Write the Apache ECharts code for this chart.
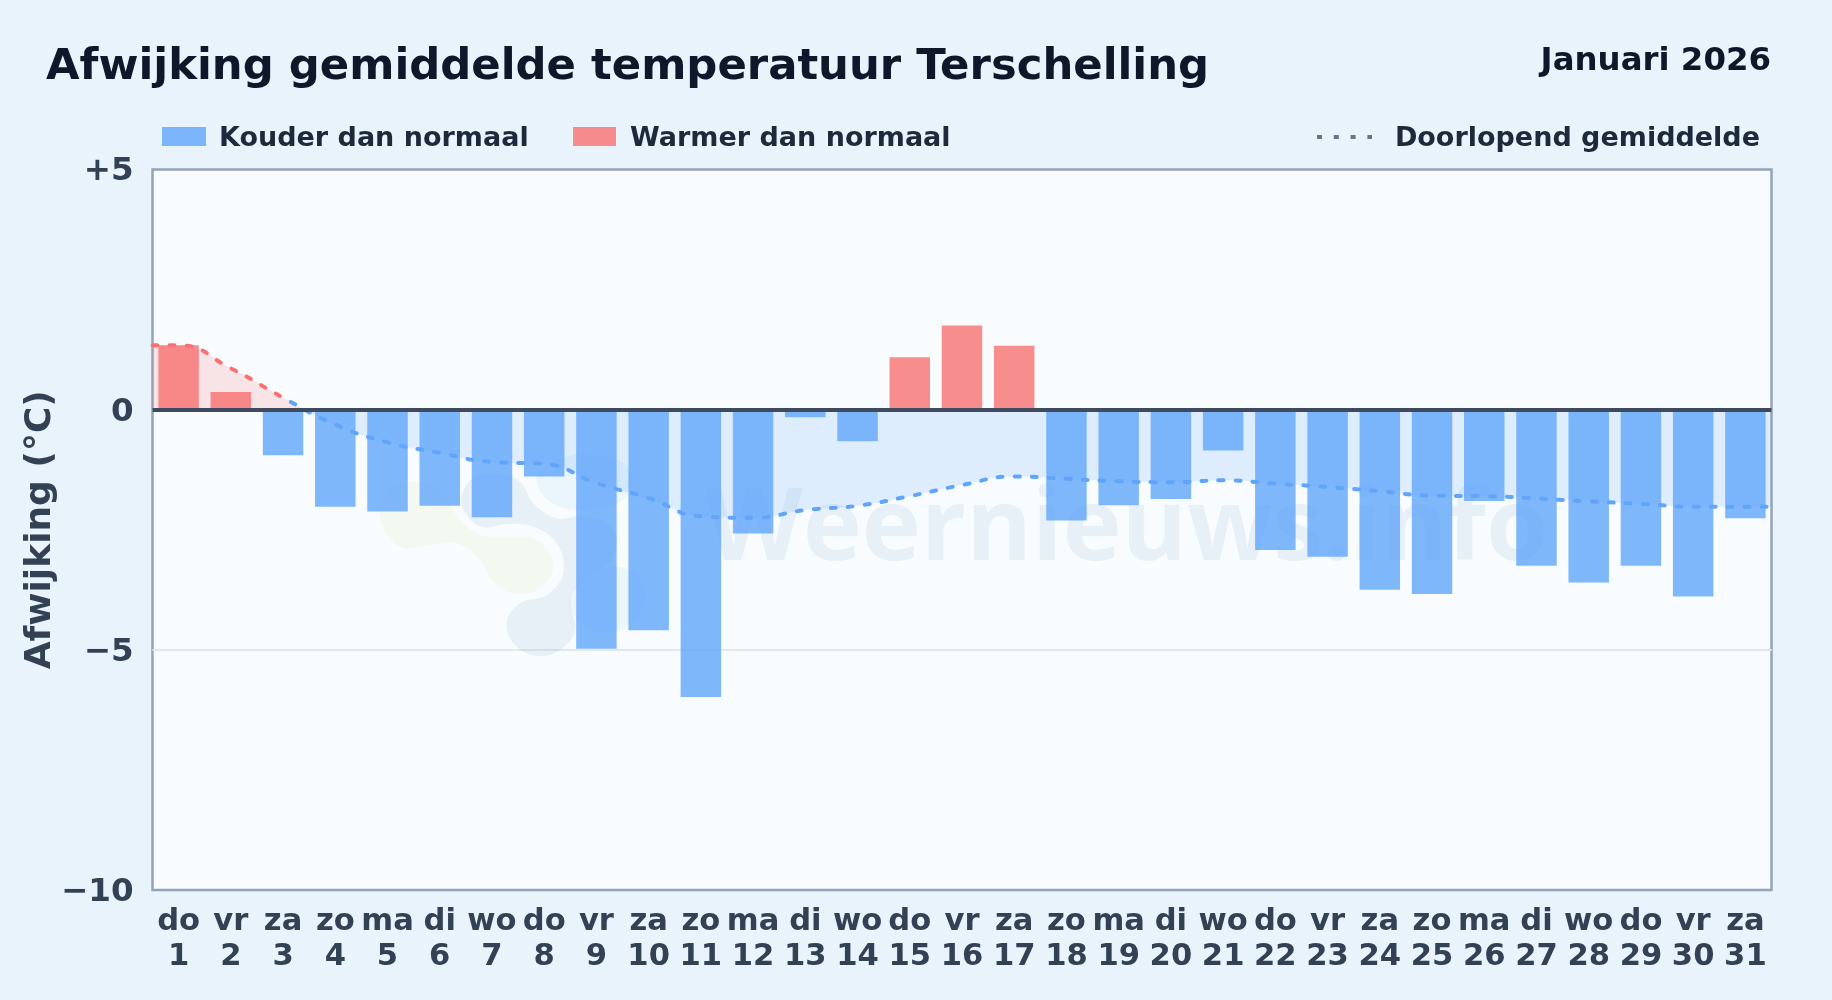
<!DOCTYPE html>
<html><head><meta charset="utf-8">
<style>html,body{margin:0;padding:0;background:#e8f3fc}#c{width:1832px;height:1000px}</style>
<script src="https://cdn.jsdelivr.net/npm/echarts@6/dist/echarts.min.js"></script>
</head><body><div id="c"></div>
<script>
var days=['do','vr','za','zo','ma','di','wo','do','vr','za','zo','ma','di','wo','do','vr','za','zo','ma','di','wo','do','vr','za','zo','ma','di','wo','do','vr','za'];
var dates=[1,2,3,4,5,6,7,8,9,10,11,12,13,14,15,16,17,18,19,20,21,22,23,24,25,26,27,28,29,30,31];
var deviation=[1.34,0.37,-0.95,-2.02,-2.12,-2.0,-2.24,-1.39,-4.98,-4.59,-5.98,-2.58,-0.16,-0.66,1.09,1.75,1.33,-2.31,-1.99,-1.86,-0.85,-2.92,-3.06,-3.75,-3.84,-1.9,-3.25,-3.6,-3.25,-3.89,-2.26];
var runningX=[0,0.5,1.5,2.5,3.5,4.5,5.5,6.5,7.5,8.5,9.5,10.5,11.5,12.5,13.5,14.5,15.5,16.5,17.5,18.5,19.5,20.5,21.5,22.5,23.5,24.5,25.5,26.5,27.5,28.5,29.5,30.5,31];
var runningAvg=[1.34,1.34,0.86,0.25,-0.31,-0.68,-0.9,-1.09,-1.13,-1.53,-1.84,-2.22,-2.25,-2.09,-2.0,-1.8,-1.57,-1.39,-1.44,-1.49,-1.51,-1.47,-1.54,-1.61,-1.7,-1.79,-1.8,-1.85,-1.91,-1.96,-2.02,-2.02,-2.02];
var yTicks={'5':'+5','0':'0','-5':'\u22125','-10':'\u221210'};
var BLUE='rgba(96,165,250,0.8)',RED='rgba(248,113,113,0.8)',FONT='"DejaVu Sans"';
var chart=echarts.init(document.getElementById('c'),null,{renderer:'canvas'});
var lineData=runningX.map(function(x,i){return [x,runningAvg[i]];});
var G={left:152.5,top:169.5,width:1619,height:720.5};
function txt(x,y,s,size,color,align){return {type:'text',x:x,y:y,silent:true,style:{text:s,font:'bold '+size+'px '+FONT,fill:color,align:align||'left',verticalAlign:'middle'}};}
function blob(pts,fill){return {type:'polygon',silent:true,z:1,x:360,y:440,scaleX:1/3,scaleY:1/3,shape:{points:pts,smooth:0.4},style:{fill:fill}};}
chart.setOption({
 animation:false,backgroundColor:'#e8f3fc',
 grid:{left:G.left,top:G.top,width:G.width,height:G.height,show:true,backgroundColor:'#f8fcff',borderColor:'#94a3b8',borderWidth:2.5,containLabel:false},
 xAxis:[{type:'category',data:days.map(function(d,i){return d+'\n'+dates[i];}),position:'bottom',axisLine:{show:false,onZero:false},axisTick:{show:false},splitLine:{show:false},axisLabel:{interval:0,color:'#334155',fontFamily:FONT,fontWeight:'bold',fontSize:30.6,lineHeight:34.5,margin:15}},
 {type:'value',min:0,max:31,show:false}],
 yAxis:{type:'value',min:-10,max:5,interval:5,name:'Afwijking (°C)',nameLocation:'middle',nameGap:94,nameMoveOverlap:false,nameRotate:90,nameTextStyle:{color:'#334155',fontFamily:FONT,fontWeight:'bold',fontSize:36},axisLine:{show:false},axisTick:{show:false},splitLine:{showMinLine:false,showMaxLine:false,lineStyle:{color:'#e2e8f0',width:2}},axisLabel:{margin:19,color:'#334155',fontFamily:FONT,fontWeight:'bold',fontSize:32.5,rich:{t:{color:'#334155',fontFamily:FONT,fontWeight:'bold',fontSize:32.5,padding:[5,0,0,0]}},formatter:function(v){return '{t|'+yTicks[String(v)]+'}';}}},
 visualMap:[
  {show:false,type:'piecewise',seriesIndex:0,dimension:1,pieces:[{gt:0,lte:100,color:'#f87171'},{gte:-100,lte:0,color:'#60a5fa'}]},
  {show:false,type:'piecewise',seriesIndex:2,dimension:0,pieces:[{gte:-100,lte:2.5,color:'#f87171'},{gt:2.5,lte:100,color:'#60a5fa'}]}
 ],
 series:[
  {name:'area',type:'line',xAxisIndex:1,data:lineData,smooth:0.5,symbol:'none',z:1,lineStyle:{width:0,opacity:0},areaStyle:{opacity:0.17,origin:0},silent:true},
  {name:'dev',type:'bar',data:deviation.map(function(v){return {value:v,itemStyle:{color:v>=0?RED:BLUE}};}),barCategoryGap:'22.5%',z:2,silent:true,
    markLine:{silent:true,symbol:'none',z:5,label:{show:false},lineStyle:{color:'#3f4a5f',width:4,type:'solid'},data:[{yAxis:0}],animation:false}},
  {name:'avg',type:'line',xAxisIndex:1,data:lineData,smooth:0.5,symbol:'none',z:4,lineStyle:{width:4,type:[5,12],cap:'round'},silent:true}
 ],
 graphic:[
  blob([[60,230],[90,150],[170,125],[250,160],[295,235],[365,285],[440,290],[530,300],[580,380],[530,450],[460,460],[400,425],[360,360],[290,310],[210,315],[120,320]],'rgba(215,225,130,0.12)'),
  blob([[305,170],[340,115],[410,100],[480,125],[520,190],[590,235],[680,228],[760,270],[760,350],[680,415],[632,470],[645,570],[600,630],[540,648],[470,620],[440,550],[480,490],[560,465],[610,400],[590,310],[520,260],[440,252],[370,262],[320,225]],'rgba(100,135,180,0.11)'),
  blob([[530,110],[590,60],[690,45],[790,70],[815,140],[760,195],[660,210],[570,185]],'rgba(120,190,230,0.10)'),
  blob([[630,470],[680,410],[770,380],[845,420],[850,500],[790,565],[710,575],[645,530]],'rgba(120,190,230,0.10)'),
  {type:'text',silent:true,z:1,x:706,y:482,style:{text:'Weernieuws.info',font:'bold 100px "Open Sans"',fill:'rgba(100,135,180,0.10)',align:'left',verticalAlign:'alphabetic'}},
  txt(46,68,'Afwijking gemiddelde temperatuur Terschelling',43.35,'#0f172a'),
  txt(1771,62,'Januari 2026',32.4,'#0f172a','right'),
  {type:'rect',silent:true,shape:{x:162,y:127,width:44,height:19},style:{fill:BLUE}},
  txt(219,139,'Kouder dan normaal',27,'#1e293b'),
  {type:'rect',silent:true,shape:{x:573,y:127,width:43,height:19},style:{fill:RED}},
  txt(630,139,'Warmer dan normaal',27,'#1e293b'),
  {type:'line',silent:true,shape:{x1:1317,y1:137,x2:1372,y2:137},style:{stroke:'#64748b',lineWidth:4,lineDash:[5,11.8]}},
  txt(1760,139,'Doorlopend gemiddelde',27,'#1e293b','right')
 ]
});
</script></body></html>
